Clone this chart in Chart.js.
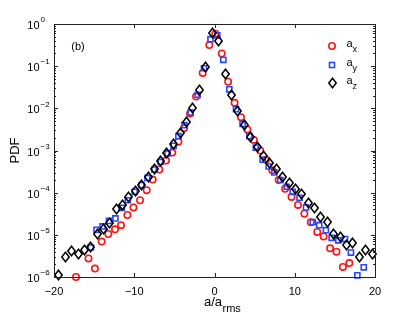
<!DOCTYPE html>
<html>
<head>
<meta charset="utf-8">
<script src="https://cdn.jsdelivr.net/npm/chart.js@4.4.1/dist/chart.umd.min.js"></script>
<style>
html,body{margin:0;padding:0;background:#fff;}
canvas{display:block;}
</style>
</head>
<body>
<canvas id="c" width="415" height="323" style="width:415px;height:323px"></canvas>
<script>
// ---- data (x = a/a_rms, values = log10(PDF)) ----
const axX   = [-17.26,-15.7,-14.9,-14.06,-13.23,-12.4,-11.65,-10.86,-10.1,-9.28,-8.45,-7.7,-6.88,-6.04,-5.26,-4.5,-3.8,-3.05,-2.3,-1.47,-0.65,
               0.1,0.9,1.7,2.5,3.3,4.1,4.9,5.7,6.4,7.2,8.0,8.8,9.6,10.4,11.2,12.0,12.8,13.6,14.4,15.2,16.0,16.8];
const axLog = [-6.0,-5.56,-5.80,-5.16,-4.98,-4.87,-4.77,-4.53,-4.35,-4.18,-3.94,-3.69,-3.45,-3.24,-3.05,-2.79,-2.47,-2.12,-1.72,-1.16,-0.50,
               -0.23,-0.70,-1.37,-1.87,-2.21,-2.50,-2.75,-3.00,-3.22,-3.47,-3.70,-3.91,-4.10,-4.29,-4.50,-4.70,-4.93,-5.04,-5.32,-5.40,-5.76,-5.67];

const ayX   = [-15.4,-14.7,-13.95,-13.15,-12.35,-11.55,-10.8,-9.95,-9.1,-8.35,-7.5,-6.7,-5.85,-5.1,-4.5,-3.75,-2.97,-2.1,-1.3,-0.5,
               0.35,1.1,1.85,2.68,3.5,4.34,5.15,6.0,6.75,7.45,8.2,9.0,9.75,10.6,11.4,12.24,13.05,13.88,14.6,15.43,16.26,17.0,17.8,18.6];
const ayLog = [-5.30,-4.88,-4.80,-4.67,-4.61,-4.36,-4.18,-3.98,-3.82,-3.65,-3.45,-3.27,-3.07,-2.89,-2.66,-2.40,-2.10,-1.68,-1.05,-0.36,
               -0.27,-0.85,-1.55,-2.02,-2.37,-2.66,-2.93,-3.22,-3.38,-3.52,-3.70,-3.86,-3.98,-4.12,-4.35,-4.70,-4.77,-4.89,-5.07,-5.13,-5.10,-5.42,-5.96,-5.77];

const azX   = [-19.5,-18.6,-17.8,-17.0,-16.2,-15.4,-14.6,-13.85,-13.06,-12.2,-11.5,-10.7,-9.82,-9.07,-8.25,-7.45,-6.7,-5.93,-5.13,-4.25,-3.5,-2.75,-1.85,-1.1,-0.3,
               0.45,1.31,2.14,2.9,3.7,4.5,5.3,6.08,6.88,7.7,8.5,9.3,10.1,10.9,11.7,12.44,13.27,14.06,14.88,15.65,16.45,17.22,18.05,18.84,19.67];
const azLog = [-5.95,-5.52,-5.39,-5.46,-5.36,-5.30,-4.97,-4.87,-4.71,-4.39,-4.29,-4.10,-3.96,-3.82,-3.63,-3.43,-3.24,-3.06,-2.85,-2.59,-2.32,-2.00,-1.57,-1.01,-0.22,
               -0.40,-1.19,-1.68,-2.07,-2.40,-2.67,-2.92,-3.13,-3.30,-3.45,-3.62,-3.77,-3.92,-4.04,-4.25,-4.36,-4.58,-4.69,-4.99,-5.04,-5.25,-5.19,-5.53,-5.35,-5.45];

const xTicks = [-20,-10,0,10,20];
const yDecades = [0,-1,-2,-3,-4,-5,-6];
const seriesNames = ['x','y','z'];

function pts(xs, ls){ return xs.map((x,i)=>({x:x, y:Math.pow(10, ls[i])})); }

const FONT = '"Liberation Sans", Arial, sans-serif';
const BLUE = 'rgb(40,72,255)';
const RED = 'rgb(255,20,20)';

function diamondCanvas(){
  const c = document.createElement('canvas');
  c.width = 11; c.height = 12;
  const g = c.getContext('2d');
  g.strokeStyle = '#000'; g.lineWidth = 1.5; g.lineJoin = 'miter';
  g.beginPath();
  g.moveTo(5.5,1.2); g.lineTo(9.2,6); g.lineTo(5.5,10.8); g.lineTo(1.8,6); g.closePath();
  g.stroke();
  return c;
}
const DIAMOND = diamondCanvas();

const crisp = {
  id:'crisp',
  beforeDatasetsDraw(chart){ chart.ctx.imageSmoothingEnabled = false; },
  afterDatasetsDraw(chart){ chart.ctx.imageSmoothingEnabled = true; }
};

const decor = {
  id:'decor',
  afterDraw(chart){
    const ctx = chart.ctx, a = chart.chartArea;
    const xs = chart.scales.x, ys = chart.scales.y;
    ctx.save();
    ctx.strokeStyle = '#222'; ctx.lineWidth = 1;
    ctx.strokeRect(Math.round(a.left)+0.5, Math.round(a.top)+0.5, Math.round(a.right-a.left), Math.round(a.bottom-a.top));
    ctx.beginPath();
    xTicks.forEach(v=>{
      const px = Math.round(xs.getPixelForValue(v))+0.5;
      ctx.moveTo(px, a.bottom); ctx.lineTo(px, a.bottom-4);
      ctx.moveTo(px, a.top); ctx.lineTo(px, a.top+4);
    });
    yDecades.forEach(d=>{
      for (let m=1; m<=9; m++){
        if (d===0 && m>1) break;
        const v = m*Math.pow(10,d);
        const py = Math.round(ys.getPixelForValue(v))+0.5;
        const len = m===1 ? 4 : 2;
        ctx.moveTo(a.left, py); ctx.lineTo(a.left+len, py);
        ctx.moveTo(a.right, py); ctx.lineTo(a.right-len, py);
      }
    });
    ctx.stroke();

    ctx.fillStyle = '#000';
    yDecades.forEach(d=>{
      const py = ys.getPixelForValue(Math.pow(10,d));
      ctx.font = '11px '+FONT; ctx.textAlign='right'; ctx.textBaseline='middle';
      ctx.fillText('10', 39.5, py+2);
      ctx.font = '8px '+FONT; ctx.textAlign='left';
      ctx.fillText(d===0 ? '0' : '\u2212'+(-d), 40.5, py-4);
    });

    ctx.save();
    ctx.translate(15, (a.top+a.bottom)/2);
    ctx.rotate(-Math.PI/2);
    ctx.font = '13px '+FONT; ctx.textAlign='center'; ctx.textBaseline='middle';
    ctx.fillText('PDF', 0, 0);
    ctx.restore();

    ctx.textAlign='left'; ctx.textBaseline='alphabetic';
    ctx.font = '13px '+FONT;
    ctx.fillText('a/a', 204, 306);
    ctx.font = '11px '+FONT;
    ctx.fillText('rms', 222.5, 312);

    ctx.font = '11px '+FONT; ctx.textAlign='center'; ctx.textBaseline='middle';
    ctx.fillText('(b)', 78, 47);

    const lx = 332, ly = [46,65,83];
    ctx.strokeStyle = RED; ctx.lineWidth = 1.6;
    ctx.beginPath(); ctx.arc(lx, ly[0], 3.2, 0, Math.PI*2); ctx.stroke();
    ctx.strokeStyle = BLUE; ctx.lineWidth = 1.6;
    ctx.strokeRect(lx-2.5, ly[1]-2.5, 5, 5);
    ctx.drawImage(DIAMOND, lx-5, ly[2]-6);
    ctx.fillStyle = '#000';
    seriesNames.forEach((s,i)=>{
      ctx.textAlign='left'; ctx.textBaseline='alphabetic';
      ctx.font = '11px '+FONT;
      ctx.fillText('a', 346.5, ly[i]+1);
      ctx.font = '9px '+FONT;
      ctx.fillText(s, 352.5, ly[i]+6);
    });
    ctx.restore();
  }
};

new Chart(document.getElementById('c'), {
  type:'scatter',
  data:{
    datasets:[
      {label:'a_z', data:pts(azX,azLog), pointStyle:DIAMOND, pointRadius:5, order:0, clip:false,
       backgroundColor:'rgba(0,0,0,0)', borderColor:'rgba(0,0,0,0)', showLine:false},
      {label:'a_y', data:pts(ayX,ayLog), pointStyle:'rect', pointRadius:3.6, borderColor:BLUE, backgroundColor:'rgba(0,0,0,0)',
       pointBorderWidth:1.6, borderWidth:1.6, order:1, clip:false, showLine:false},
      {label:'a_x', data:pts(axX,axLog), pointStyle:'circle', pointRadius:3.2, borderColor:RED, backgroundColor:'rgba(0,0,0,0)',
       pointBorderWidth:1.6, borderWidth:1.6, order:2, clip:false, showLine:false}
    ]
  },
  options:{
    responsive:false, animation:false, devicePixelRatio:1,
    layout:{padding:{left:0, right:40, top:24, bottom:0}},
    plugins:{legend:{display:false}, tooltip:{enabled:false}, title:{display:false}},
    events:[],
    scales:{
      x:{type:'linear', min:-20, max:20,
         grid:{display:false, drawTicks:false}, border:{display:false},
         ticks:{stepSize:10, padding:8, color:'#000', font:{family:FONT, size:11},
                callback:v => v<0 ? '\u2212'+Math.abs(v) : String(v)},
         afterFit:s=>{ s.height = 46; }},
      y:{type:'logarithmic', min:1e-6, max:1,
         grid:{display:false}, border:{display:false},
         ticks:{display:false},
         afterFit:s=>{ s.width = 54; }}
    }
  },
  plugins:[crisp, decor]
});
</script>
</body>
</html>
